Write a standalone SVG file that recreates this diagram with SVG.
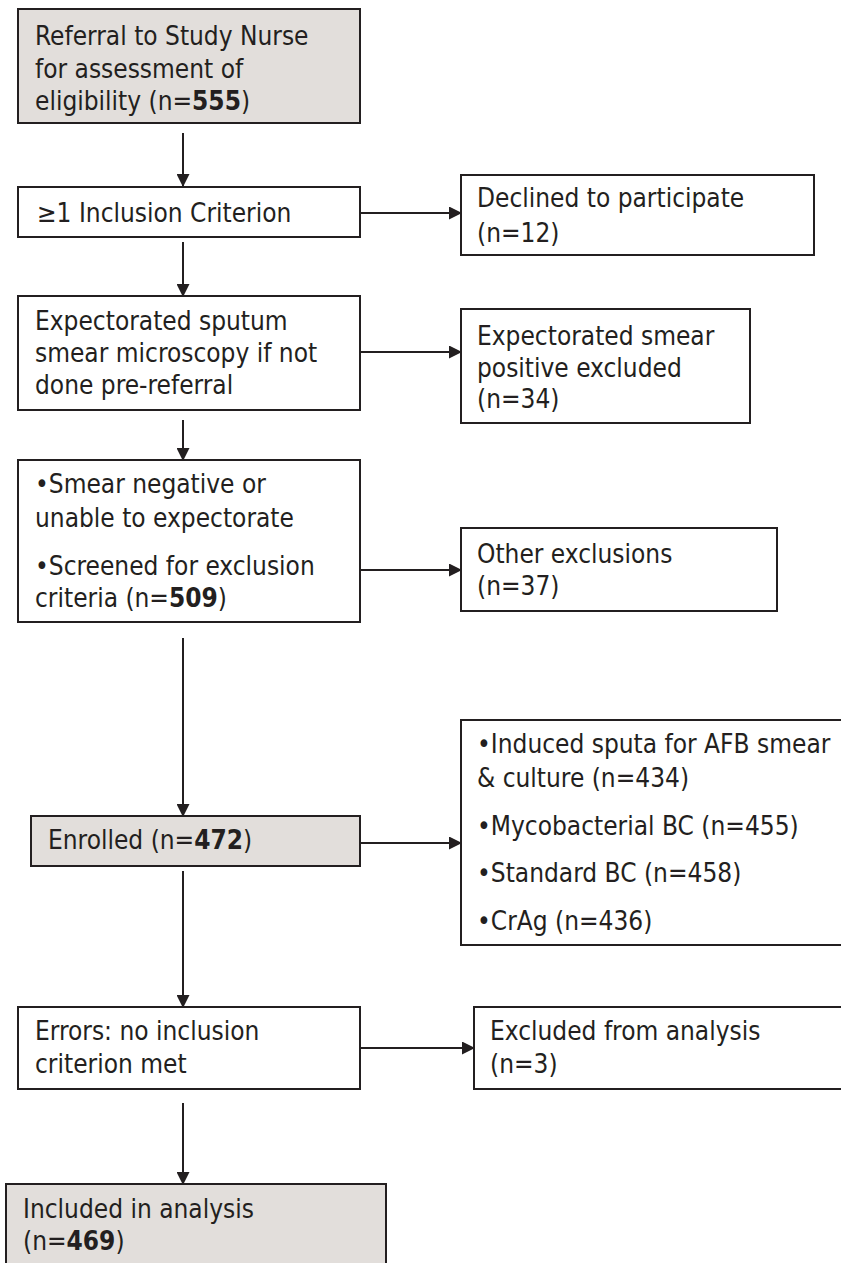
<svg xmlns="http://www.w3.org/2000/svg" width="841" height="1263" viewBox="0 0 841 1263">
<style>
  .box { fill: #ffffff; stroke: #231f20; stroke-width: 2; }
  .gray { fill: #e2dedb; }
  text { font-family: "DejaVu Sans Condensed", "DejaVu Sans", sans-serif; font-stretch: condensed; font-size: 26px; fill: #231f20; }
  .b { font-weight: bold; }
  .conn line { stroke: #231f20; stroke-width: 2; }
</style>
<defs>
  <marker id="arr" markerWidth="13" markerHeight="13" refX="12" refY="6.5" orient="auto" markerUnits="userSpaceOnUse">
    <path d="M0,0 L13,6.5 L0,13 Z" fill="#231f20"/>
  </marker>
</defs>
<rect width="841" height="1263" fill="#ffffff"/>

<g id="connectors" class="conn">
  <line x1="183" y1="133" x2="183" y2="186" marker-end="url(#arr)"/>
  <line x1="183" y1="242" x2="183" y2="296" marker-end="url(#arr)"/>
  <line x1="183" y1="420" x2="183" y2="460" marker-end="url(#arr)"/>
  <line x1="183" y1="638" x2="183" y2="816" marker-end="url(#arr)"/>
  <line x1="183" y1="871" x2="183" y2="1007" marker-end="url(#arr)"/>
  <line x1="183" y1="1103" x2="183" y2="1184" marker-end="url(#arr)"/>
  <line x1="360" y1="213" x2="461" y2="213" marker-end="url(#arr)"/>
  <line x1="360" y1="352" x2="461" y2="352" marker-end="url(#arr)"/>
  <line x1="360" y1="570" x2="461" y2="570" marker-end="url(#arr)"/>
  <line x1="360" y1="843" x2="461" y2="843" marker-end="url(#arr)"/>
  <line x1="360" y1="1048" x2="474" y2="1048" marker-end="url(#arr)"/>
</g>

<g id="referral">
  <rect class="box gray" x="18" y="9" width="342" height="114"/>
  <text x="35" y="45">Referral to Study Nurse</text>
  <text x="35" y="78">for assessment of</text>
  <text x="35" y="110">eligibility (n=<tspan class="b">555</tspan>)</text>
</g>

<g id="inclusion">
  <rect class="box" x="18" y="187" width="342" height="50"/>
  <text x="37" y="222">≥1 Inclusion Criterion</text>
</g>

<g id="declined">
  <rect class="box" x="461" y="175" width="353" height="80"/>
  <text x="477" y="207">Declined to participate</text>
  <text x="477" y="242">(n=12)</text>
</g>

<g id="smear-microscopy">
  <rect class="box" x="18" y="296" width="342" height="114"/>
  <text x="35" y="330">Expectorated sputum</text>
  <text x="35" y="362">smear microscopy if not</text>
  <text x="35" y="394">done pre-referral</text>
</g>

<g id="smear-positive">
  <rect class="box" x="461" y="309" width="289" height="114"/>
  <text x="477" y="345">Expectorated smear</text>
  <text x="477" y="377">positive excluded</text>
  <text x="477" y="408">(n=34)</text>
</g>

<g id="screened">
  <rect class="box" x="18" y="460" width="342" height="162"/>
  <text x="35" y="493">•Smear negative or</text>
  <text x="35" y="527">unable to expectorate</text>
  <text x="35" y="575">•Screened for exclusion</text>
  <text x="35" y="607">criteria (n=<tspan class="b">509</tspan>)</text>
</g>

<g id="other-exclusions">
  <rect class="box" x="461" y="528" width="316" height="83"/>
  <text x="477" y="563">Other exclusions</text>
  <text x="477" y="595">(n=37)</text>
</g>

<g id="enrolled">
  <rect class="box gray" x="31" y="816" width="329" height="50"/>
  <text x="48" y="849">Enrolled (n=<tspan class="b">472</tspan>)</text>
</g>

<g id="tests">
  <rect class="box" x="461" y="720" width="400" height="225"/>
  <text x="477" y="753">•Induced sputa for AFB smear</text>
  <text x="477" y="787">&amp; culture (n=434)</text>
  <text x="477" y="835">•Mycobacterial BC (n=455)</text>
  <text x="477" y="882">•Standard BC (n=458)</text>
  <text x="477" y="930">•CrAg (n=436)</text>
</g>

<g id="errors">
  <rect class="box" x="18" y="1007" width="342" height="82"/>
  <text x="35" y="1040">Errors: no inclusion</text>
  <text x="35" y="1073">criterion met</text>
</g>

<g id="excluded">
  <rect class="box" x="474" y="1007" width="380" height="82"/>
  <text x="490" y="1040">Excluded from analysis</text>
  <text x="490" y="1073">(n=3)</text>
</g>

<g id="included">
  <rect class="box gray" x="6" y="1184" width="380" height="100"/>
  <text x="23" y="1218">Included in analysis</text>
  <text x="23" y="1250">(n=<tspan class="b">469</tspan>)</text>
</g>
</svg>
